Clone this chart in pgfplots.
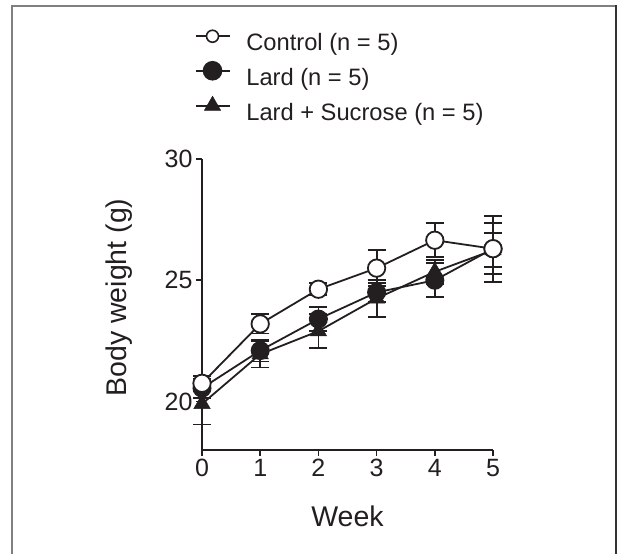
\documentclass[border=0pt]{standalone}
\usepackage{fontspec}
\setmainfont{Liberation Sans}
\usepackage{pgfplots}
\pgfplotsset{compat=1.18}
\definecolor{ink}{HTML}{231F20}
\pgfplotstableread{
w m e
0 20.75 0.30
1 23.20 0.40
2 24.63 0.25
3 25.50 0.74
4 26.65 0.70
5 26.30 1.36
}\control
\pgfplotstableread{
w m e
0 20.55 0.40
1 22.10 0.45
2 23.40 0.50
3 24.50 0.40
4 25.00 0.70
5 26.30 1.05
}\lard
\pgfplotstableread{
w m e
0 19.90 0.85
1 21.95 0.55
2 22.90 0.70
3 24.25 0.75
4 25.35 0.50
5 26.24 0.70
}\lardsuc
\begin{document}
\begin{tikzpicture}[x=1pt,y=1pt]
\path[use as bounding box] (0,0) rectangle (617,553);
\draw[line width=2pt, color=black!50] (12,-5) -- (12,547) -- (616,547);
\draw[line width=2pt, color=black!80] (616,548) -- (616,-5);
\begin{axis}[
  at={(202pt,103pt)}, anchor=south west,
  scale only axis, width=291pt, height=291pt,
  xmin=0, xmax=5, ymin=18, ymax=30,
  clip=false,
  axis x line*=bottom, axis y line*=left,
  axis line style={-, line width=1.6pt, ink},
  xtick={0,1,2,3,4,5}, ytick={20,25,30},
  tick align=outside, major tick length=6pt,
  tick style={line width=1.6pt, ink},
  /pgf/number format/assume math mode=true,
  tick label style={font=\fontsize{25}{29}\selectfont, text=ink},
  xlabel={Week},
  ylabel={Body weight (g)},
  xlabel style={font=\fontsize{28.5}{32}\selectfont, text=ink, at={(axis description cs:0.5,-0.227)}, anchor=center},
  ylabel style={font=\fontsize{28.5}{32}\selectfont, text=ink, at={(axis description cs:-0.285,0.524)}, anchor=center},
  legend image code/.code={
    \draw[#1] (0pt,8.5pt) -- (34pt,8.5pt);
    \draw[#1, only marks] plot coordinates {(17pt,8.5pt)};
  },
  legend style={draw=none, fill=none, at={(axis description cs:-0.036,1.45)}, anchor=north west,
    font=\fontsize{23.7}{28}\selectfont, text=ink, row sep=6pt, column sep=16pt,
    nodes={inner sep=0pt, text height=17pt, text depth=5pt}},
  legend cell align=left,
]
\addlegendimage{ink, line width=1.6pt, mark=*, mark size=6pt, mark options={fill=white, draw=ink, line width=1.6pt, solid}}
\addlegendentry{Control (n = 5)}
\addlegendimage{ink, line width=1.6pt, mark=*, mark size=9pt, mark options={fill=ink, draw=ink, solid}}
\addlegendentry{Lard (n = 5)}
\addlegendimage{ink, line width=1.6pt, mark=triangle*, mark size=9.5pt, mark options={fill=ink, draw=ink, line width=0.5pt, solid}}
\addlegendentry{Lard + Sucrose (n = 5)}

\addplot[forget plot, ink, line width=1.8pt, mark=triangle*, mark size=9.5pt,
  mark options={fill=ink, draw=ink, line width=0.5pt, solid},
  error bars/.cd, y dir=both, y explicit,
  error bar style={line width=1.8pt, ink},
  error mark options={rotate=90, mark size=9pt, line width=1.8pt, ink}]
  table[x=w, y=m, y error=e] {\lardsuc};
\addplot[forget plot, ink, line width=1.8pt, mark=*, mark size=8.7pt,
  mark options={fill=ink, draw=ink, line width=1.6pt, solid},
  error bars/.cd, y dir=both, y explicit,
  error bar style={line width=1.8pt, ink},
  error mark options={rotate=90, mark size=9pt, line width=1.8pt, ink}]
  table[x=w, y=m, y error=e] {\lard};
\addplot[forget plot, ink, line width=1.8pt, mark=*, mark size=8.7pt,
  mark options={fill=white, draw=ink, line width=1.8pt, solid},
  error bars/.cd, y dir=both, y explicit,
  error bar style={line width=1.8pt, ink},
  error mark options={rotate=90, mark size=9pt, line width=1.8pt, ink}]
  table[x=w, y=m, y error=e] {\control};
\end{axis}
\end{tikzpicture}
\end{document}
